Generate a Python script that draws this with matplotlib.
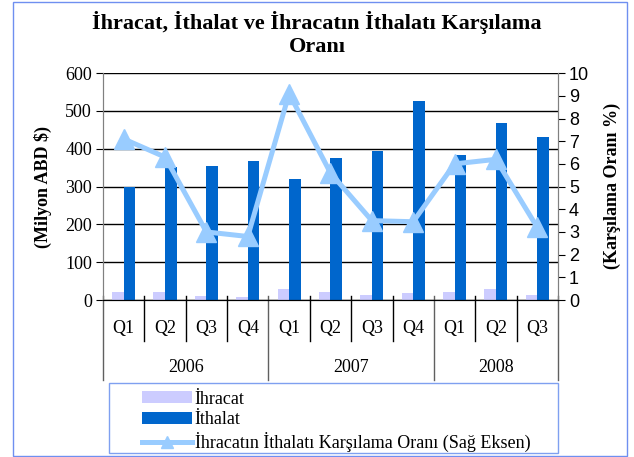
import matplotlib.pyplot as plt
import matplotlib.transforms as mtrans
from matplotlib.lines import Line2D
from matplotlib.patches import Rectangle
import numpy as np

quarters = ['Q1', 'Q2', 'Q3', 'Q4', 'Q1', 'Q2', 'Q3', 'Q4', 'Q1', 'Q2', 'Q3']
years = ['2006', '2007', '2008']
year_sizes = [4, 4, 3]

ihracat = [22, 22, 11, 8, 30, 22, 14, 19, 22, 29, 14]
ithalat = [300, 351, 354, 368, 321, 375, 395, 527, 383, 469, 432]
oran = [7.1, 6.3, 3.0, 2.8, 9.1, 5.6, 3.5, 3.45, 6.0, 6.2, 3.2]

serif = 'Liberation Serif'
sans = 'Liberation Sans'
W, H = 634, 457

fig = plt.figure(figsize=(W / 100, H / 100), dpi=100)
ax = fig.add_axes([0.1625, 0.3435, 0.7175, 0.4965])
ax2 = ax.twinx()

x = np.arange(len(quarters))
w = 0.28
ax.bar(x - w / 2, ihracat, w, color='#CCCCFF', zorder=2, label='İhracat')
ax.bar(x + w / 2, ithalat, w, color='#0066CC', zorder=2, label='İthalat')
ln, = ax2.plot(x, oran, color='#99CCFF', lw=3.6, marker='^', ms=14)

ax.set_xlim(-0.5, len(quarters) - 0.5)
ax.set_ylim(0, 600)
ax.set_yticks(range(0, 601, 100))
ax2.set_ylim(0, 10)
ax2.set_yticks(range(0, 11))
ax.yaxis.grid(True, color='black', lw=1, zorder=0)
ax.set_axisbelow(True)

for a in (ax, ax2):
    a.spines['top'].set_visible(False)
    a.spines['left'].set_color('#808080')
    a.spines['right'].set_color('#808080')
    a.spines['bottom'].set_color('black')
ax.tick_params(axis='y', direction='out', length=5, labelsize=13, pad=3)
ax2.tick_params(axis='y', direction='out', length=5, labelsize=13, pad=3)
for t in ax.get_yticklabels():
    t.set_fontfamily(serif)
for t in ax2.get_yticklabels():
    t.set_fontfamily(sans)

fig.text(43 / W, 1 - 187 / H, '(Milyon ABD $)', rotation=90, ha='center',
         va='center', fontfamily=serif, fontweight='bold', fontsize=13)
fig.text(612 / W, 1 - 186 / H, '(Karşılama Oranı %)', rotation=90,
         ha='center', va='center', fontfamily=serif, fontweight='bold',
         fontsize=13)

# category axis with quarter / year grouping
ax.set_xticks([])
trans = mtrans.blended_transform_factory(ax.transData, ax.transAxes)
pt = 1.0 / (0.4965 * H)  # one pixel in axes fraction
for i, q in enumerate(quarters):
    ax.text(i, -28 * pt, q, transform=trans, ha='center', va='center',
            fontfamily=serif, fontsize=13)
starts = np.cumsum([0] + year_sizes)
for b in range(len(quarters) + 1):
    bottom = -80 * pt if b in starts else -41 * pt
    ax.plot([b - 0.5, b - 0.5], [4 * pt, bottom], transform=trans,
            color='black' if b not in starts else '#606060', lw=1, clip_on=False)
for k, yr in enumerate(years):
    mid = (starts[k] + starts[k + 1] - 1) / 2
    ax.text(mid, -67 * pt, yr, transform=trans, ha='center', va='center',
            fontfamily=serif, fontsize=13)

fig.text(0.5, 1 - 22 / H, 'İhracat, İthalat ve İhracatın İthalatı Karşılama',
         ha='center', va='center', fontfamily=serif, fontweight='bold', fontsize=16)
fig.text(0.5, 1 - 47 / H, 'Oranı', ha='center', va='center',
         fontfamily=serif, fontweight='bold', fontsize=16)

# legend
h1, l1 = ax.get_legend_handles_labels()
proxy = Line2D([], [], color='#99CCFF', lw=3.6, marker='^', ms=8)
leg = fig.legend(h1 + [proxy],
                 l1 + ['İhracatın İthalatı Karşılama Oranı (Sağ Eksen)'],
                 loc='upper left', bbox_to_anchor=(129 / W, 1 - 378 / H),
                 prop={'family': serif, 'size': 13}, frameon=False,
                 handlelength=2.8, handleheight=0.65, labelspacing=0.2,
                 borderpad=0.2, handletextpad=0.15)
fig.add_artist(Rectangle((109 / W, 1 - 453 / H), 449 / W, 70 / H,
                         transform=fig.transFigure, fill=False,
                         edgecolor='#7FA0F0', lw=1))
# outer frame
fig.add_artist(Rectangle((13 / W, 1 - 456 / H), 614 / W, 454 / H,
                         transform=fig.transFigure, fill=False,
                         edgecolor='#6F8FF0', lw=1))

fig.savefig('out.png', dpi=100)
